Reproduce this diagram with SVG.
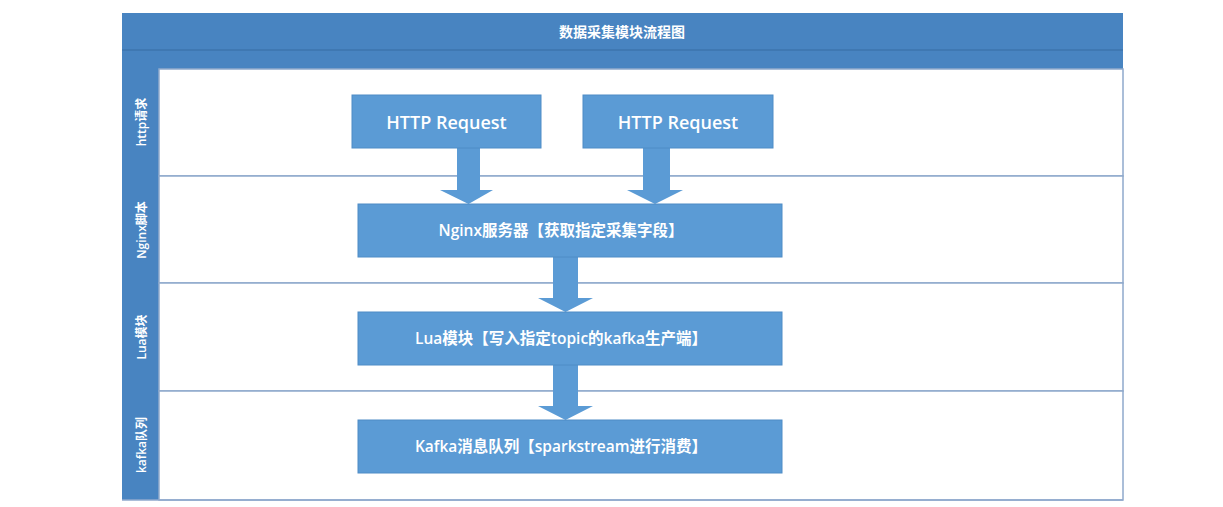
<svg xmlns="http://www.w3.org/2000/svg" width="1223" height="507" viewBox="0 0 1223 507">
<style>
.hdr{fill:#4884c1}
.lane{fill:#ffffff;stroke:#8fa9cc;stroke-width:1.5}
.box{fill:#5b9bd5;stroke:#4f8cc6;stroke-width:1}
.arr{fill:#5b9bd5}
.t{font-family:"Open Sans","Noto Sans CJK SC",sans-serif;fill:#ffffff;text-anchor:middle;dominant-baseline:central}
.lbl{font-size:12px;font-weight:600}
.bt{font-size:18px;font-weight:600}
.bt2{font-size:15.5px;font-weight:600}
</style>
<rect width="1223" height="507" fill="#ffffff"/>
<g id="frame">
<rect x="122" y="13" width="1001" height="56" class="hdr"/>
<line x1="122" y1="50" x2="1123" y2="50" stroke="#3d74ad" stroke-width="1.5"/>
<rect x="122" y="69" width="37" height="431" class="hdr"/>
<rect x="159" y="69" width="964" height="107" class="lane"/>
<rect x="159" y="176" width="964" height="107" class="lane"/>
<rect x="159" y="283" width="964" height="108" class="lane"/>
<rect x="159" y="391" width="964" height="109" class="lane"/>
<line x1="122" y1="500" x2="1123" y2="500" stroke="#8fa9cc" stroke-width="1.5"/>
<text x="622" y="31" class="t" font-size="14" font-weight="600">数据采集模块流程图</text>
</g>
<g id="lane-labels">
<text class="t lbl" transform="translate(141,122) rotate(-90)">http请求</text>
<text class="t lbl" transform="translate(141,230) rotate(-90)">Nginx脚本</text>
<text class="t lbl" transform="translate(141,337) rotate(-90)">Lua模块</text>
<text class="t lbl" transform="translate(141,445) rotate(-90)">kafka队列</text>
</g>
<g id="connectors">
<polygon class="arr" points="457,148 480,148 480,190 493,190 468.5,204 440,190 457,190"/>
<polygon class="arr" points="643,148 670,148 670,190 683,190 655,204 627,190 643,190"/>
<polygon class="arr" points="553,257 578,257 578,298 593,298 565.5,312 538,298 553,298"/>
<polygon class="arr" points="553,365 578,365 578,406 593,406 565.5,420 538,406 553,406"/>
</g>
<g id="http1">
<rect x="352" y="95" width="189" height="53" class="box"/>
<text x="446.5" y="121.5" class="t bt">HTTP Request</text>
</g>
<g id="http2">
<rect x="583" y="95" width="190" height="53" class="box"/>
<text x="678" y="121.5" class="t bt">HTTP Request</text>
</g>
<g id="nginx">
<rect x="358" y="204" width="424" height="53" class="box"/>
<text x="561" y="230" class="t bt2">Nginx服务器【获取指定采集字段】</text>
</g>
<g id="lua">
<rect x="358" y="312" width="424" height="53" class="box"/>
<text x="561" y="338" class="t bt2">Lua模块【写入指定topic的kafka生产端】</text>
</g>
<g id="kafka">
<rect x="358" y="420" width="424" height="53" class="box"/>
<text x="561" y="446" class="t bt2">Kafka消息队列【sparkstream进行消费】</text>
</g>
</svg>
